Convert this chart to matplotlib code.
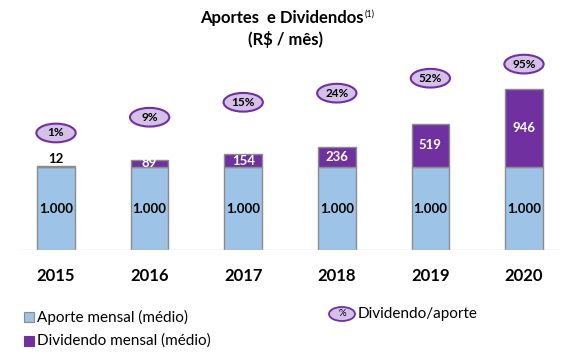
import matplotlib
matplotlib.use("Agg")
import matplotlib.pyplot as plt
from matplotlib.patches import Ellipse, Rectangle

plt.rcParams['font.family'] = ['Lato', 'DejaVu Sans']

# data
anos = ['2015', '2016', '2017', '2018', '2019', '2020']
aporte = [1000, 1000, 1000, 1000, 1000, 1000]
dividendo = [12, 89, 154, 236, 519, 946]
pct = ['1%', '9%', '15%', '24%', '52%', '95%']
bolha_y = [1410, 1600, 1780, 1890, 2070, 2240]   # altura das bolhas

azul = '#9DC3E6'
roxo = '#7030A0'
lilas = '#D5C0E8'

fig = plt.figure(figsize=(5.67, 3.63), dpi=100)
ax = fig.add_axes([20/567, (363-250)/363, 540/567, 200/363])
x = list(range(len(anos)))

ax.bar(x, aporte, width=0.4, color=azul, edgecolor='#8C8C8C', linewidth=1)
ax.bar(x, dividendo, bottom=aporte, width=0.4, color=roxo, edgecolor='#8C8C8C', linewidth=1)

for i in x:
    ax.text(i, aporte[i]/2, '1.000', ha='center', va='center', fontsize=9.5, fontweight='bold')
    if dividendo[i] < 50:
        ax.text(i, aporte[i] + dividendo[i] + 15, str(dividendo[i]), ha='center', va='bottom',
                fontsize=9.5, fontweight='bold')
    else:
        ax.text(i, aporte[i] + dividendo[i]/2, str(dividendo[i]), ha='center', va='center',
                fontsize=9.5, fontweight='bold', color='white')
    ax.add_patch(Ellipse((i, bolha_y[i]), 0.42, 225, facecolor=lilas, edgecolor=roxo, linewidth=1.5))
    ax.text(i, bolha_y[i], pct[i], ha='center', va='center', fontsize=8.5, fontweight='bold')

ax.set_xlim(-0.385, 5.385)
ax.set_ylim(0, 2410)
ax.axhline(0, color='#D9D9D9', linewidth=1)
for s in ax.spines.values():
    s.set_visible(False)
ax.set_yticks([])
ax.set_xticks(x)
ax.set_xticklabels(anos, fontsize=12, fontweight='bold')
ax.tick_params(axis='x', length=0, pad=13)

fig.text(364/567, 1 - 18/363, 'Aportes  e Dividendos', ha='right', va='center',
         fontsize=12, fontweight='bold')
fig.text(365/567, 1 - 14/363, '(1)', ha='left', va='center', fontsize=6.5)
fig.text(285/567, 1 - 40/363, '(R$ / mês)', ha='center', va='center', fontsize=12, fontweight='bold')

# legenda
fig.patches.append(Rectangle((24/567, 1 - 322/363), 10/567, 10/363, transform=fig.transFigure,
                             facecolor=azul, edgecolor='#8C8C8C', linewidth=0.8))
fig.text(37/567, 1 - 317/363, 'Aporte mensal (médio)', va='center', fontsize=11)
fig.patches.append(Rectangle((24/567, 1 - 346/363), 10/567, 10/363, transform=fig.transFigure,
                             facecolor=roxo, edgecolor=roxo, linewidth=0.8))
fig.text(37/567, 1 - 341/363, 'Dividendo mensal (médio)', va='center', fontsize=11)
fig.patches.append(Ellipse((342/567, 1 - 314/363), 26/567, 14/363, transform=fig.transFigure,
                           facecolor=lilas, edgecolor=roxo, linewidth=1.3))
fig.text(342/567, 1 - 314/363, '%', ha='center', va='center', fontsize=7)
fig.text(358/567, 1 - 314/363, 'Dividendo/aporte', va='center', fontsize=11)

fig.savefig('out.png', dpi=100)
